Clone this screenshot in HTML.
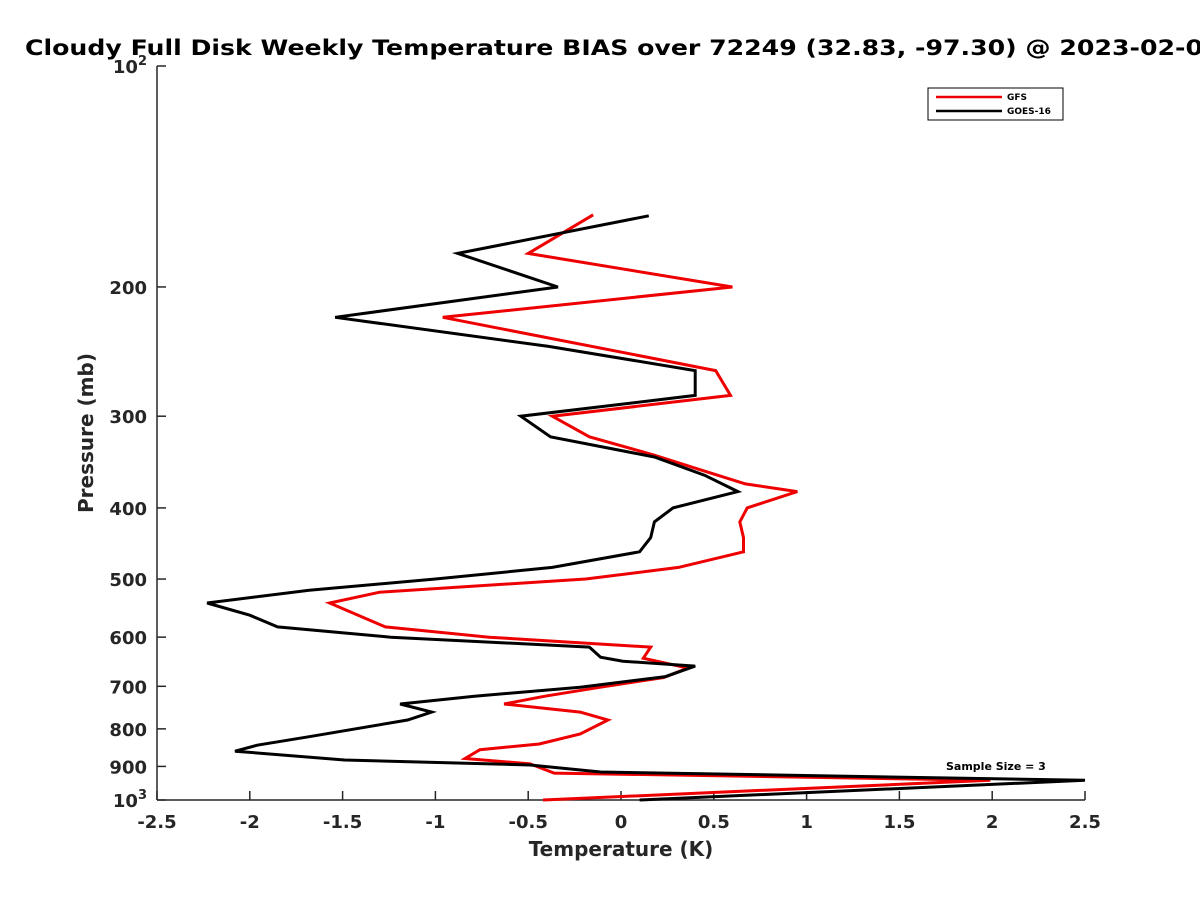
<!DOCTYPE html>
<html><head><meta charset="utf-8"><style>body{margin:0;background:#fff}svg{display:block;font-family:"DejaVu Sans","Liberation Sans",sans-serif}</style></head>
<body>
<svg id="chart" width="1200" height="900" viewBox="0 0 1200 900">
<text x="25" y="55" font-size="21" font-weight="bold" textLength="1178" lengthAdjust="spacingAndGlyphs">Cloudy Full Disk Weekly Temperature BIAS over 72249 (32.83, -97.30) @ 2023-02-0</text>
<g id="axes"></g>
<g id="series"></g>
<g>
<rect x="928" y="88" width="135" height="32" fill="#fff" stroke="#000" stroke-width="1"/>
<line x1="936" y1="97" x2="1002" y2="97" stroke="#e00" stroke-width="2.5"/>
<text x="1007" y="100" font-size="9" font-weight="bold">GFS</text>
<line x1="936" y1="111" x2="1002" y2="111" stroke="#000" stroke-width="2.5"/>
<text x="1007" y="114" font-size="9" font-weight="bold">GOES-16</text>
</g>
<text x="946" y="770" font-size="11" font-weight="bold">Sample Size = 3</text>
<text x="621" y="856" font-size="20" font-weight="bold" text-anchor="middle" fill="#262626">Temperature (K)</text>
<text transform="translate(93,433) rotate(-90)" font-size="20" font-weight="bold" text-anchor="middle" fill="#262626">Pressure (mb)</text>
</svg>
<script>
const xTicks = [-2.5,-2,-1.5,-1,-0.5,0,0.5,1,1.5,2,2.5];
const xTickLabels = ["-2.5","-2","-1.5","-1","-0.5","0","0.5","1","1.5","2","2.5"];
const yTicks = [100,200,300,400,500,600,700,800,900,1000];
const yTickLabels = ["10|2","200","300","400","500","600","700","800","900","10|3"];
const goesPressure = [160,180,200,220,241,260,281,300,320,341,361,380,400,418,439,459,482,500,518,539,560,581,600,619,639,647,657,679,702,722,740,759,778,820,842,858,882,896,916,940,1000];
const goesBias = [0.15,-0.88,-0.34,-1.54,-0.39,0.40,0.40,-0.54,-0.38,0.18,0.45,0.63,0.28,0.18,0.16,0.10,-0.37,-1.00,-1.68,-2.23,-2.00,-1.85,-1.24,-0.17,-0.11,0.01,0.40,0.24,-0.22,-0.79,-1.19,-1.02,-1.15,-1.68,-1.96,-2.08,-1.49,-0.49,-0.11,2.50,0.10];
const gfsPressure = [159.5,180,200,220,260,281,300,320,339,355,371,380,400,418,439,459,482,500,521,539,581,600,619,641,661,681,702,722,740,759,778,813,839,854,878,893,919,940,1000];
const gfsBias = [-0.15,-0.50,0.60,-0.96,0.51,0.59,-0.37,-0.17,0.18,0.43,0.67,0.95,0.68,0.64,0.66,0.66,0.31,-0.19,-1.30,-1.57,-1.27,-0.71,0.16,0.12,0.36,0.23,-0.11,-0.41,-0.63,-0.22,-0.07,-0.22,-0.44,-0.76,-0.84,-0.49,-0.36,1.99,-0.42];

const X0=157,X1=1085,Y0=66,Y1=800;
function xs(v){return X0+(v+2.5)/5*(X1-X0);}
function ys(p){return Y0+(Math.log10(p)-2)*(Y1-Y0);}
const NS="http://www.w3.org/2000/svg";
const axes=document.getElementById('axes'), ser=document.getElementById('series');
function mk(tag,attrs,parent){const e=document.createElementNS(NS,tag);for(const k in attrs)e.setAttribute(k,attrs[k]);parent.appendChild(e);return e;}
const xa=mk('line',{x1:X0,y1:Y1,x2:X1,y2:Y1,stroke:'#262626','stroke-width':1.5},axes);


const ya=mk('line',{x1:X0,y1:Y0,x2:X0,y2:Y1,stroke:'#262626','stroke-width':1.5},axes);


xTicks.forEach((v,i)=>{
  const x=xs(v);
  const t=mk('line',{x1:x,y1:Y1,x2:x,y2:Y1-9,stroke:'#262626','stroke-width':1.5},axes);
  
  
  const l=mk('text',{x:x,y:Y1+28,'font-size':18,'font-weight':'bold','text-anchor':'middle',fill:'#262626'},axes);
  l.textContent=xTickLabels[i];
  
  
});
yTicks.forEach((p,i)=>{
  const y=ys(p);
  const t=mk('line',{x1:X0,y1:y,x2:X0+9,y2:y,stroke:'#262626','stroke-width':1.5},axes);
  
  
  const parts=yTickLabels[i].split('|');
  const l=mk('text',{x:X0-10,y:y+7,'font-size':18,'font-weight':'bold','text-anchor':'end',fill:'#262626'},axes);
  
  
  if(parts.length>1){
    const a=mk('tspan',{},l); a.textContent=parts[0];
    const b=mk('tspan',{'font-size':13,dy:-8},l); b.textContent=parts[1];
  } else l.textContent=parts[0];
});
function line(pr,vals,color,name){
  const pts=pr.map((p,i)=>xs(vals[i]).toFixed(1)+','+ys(p).toFixed(1)).join(' ');
  const pl=mk('polyline',{points:pts,fill:'none',stroke:color,'stroke-width':3,'stroke-linejoin':'miter'},ser);
  
  
}
line(gfsPressure,gfsBias,'#e00','gfs-bias-line');
line(goesPressure,goesBias,'#000','goes16-bias-line');
</script>
</body></html>
